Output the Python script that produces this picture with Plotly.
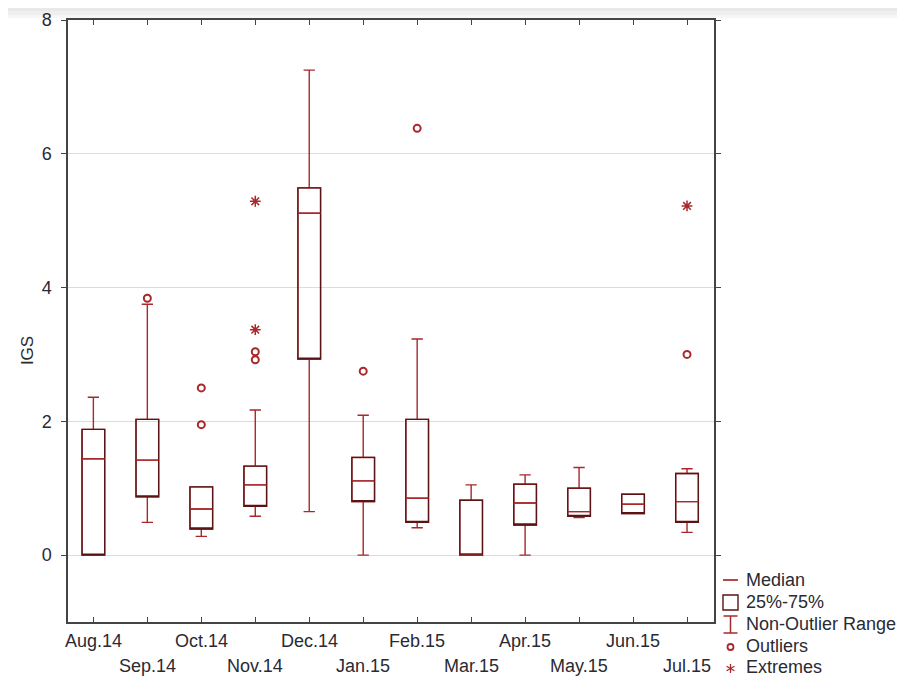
import plotly.graph_objects as go

months = ["Aug.14", "Sep.14", "Oct.14", "Nov.14", "Dec.14", "Jan.15",
          "Feb.15", "Mar.15", "Apr.15", "May.15", "Jun.15", "Jul.15"]
q1 = [0.00, 0.87, 0.39, 0.73, 2.93, 0.80, 0.49, 0.00, 0.45, 0.58, 0.62, 0.49]
median = [1.44, 1.42, 0.69, 1.05, 5.11, 1.11, 0.85, 0.00, 0.78, 0.65, 0.76, 0.80]
q3 = [1.88, 2.03, 1.02, 1.33, 5.49, 1.46, 2.03, 0.82, 1.06, 1.00, 0.91, 1.22]
low_whisker = [0.00, 0.49, 0.28, 0.58, 0.65, 0.00, 0.41, 0.00, 0.00, 0.56, 0.62, 0.34]
high_whisker = [2.36, 3.75, 1.02, 2.17, 7.25, 2.09, 3.23, 1.05, 1.20, 1.31, 0.91, 1.29]

outlier_month = ["Sep.14", "Oct.14", "Oct.14", "Nov.14", "Nov.14", "Jan.15", "Feb.15", "Jul.15"]
outlier_value = [3.84, 1.95, 2.50, 2.92, 3.04, 2.75, 6.38, 3.00]
extreme_month = ["Nov.14", "Nov.14", "Jul.15"]
extreme_value = [3.37, 5.29, 5.22]

legend_labels = ["Median", "25%-75%", "Non-Outlier Range", "Outliers", "Extremes"]

RED = "#a8282b"
DARK = "#5a1416"
TXT = "#2a2a33"
FONT = "Liberation Sans"

xs = list(range(len(months)))
idx = {m: i for i, m in enumerate(months)}

fig = go.Figure()
BW = 0.42
# whiskers + caps (red)
fig.add_trace(go.Box(x=xs, q1=q1, median=median, q3=q3, lowerfence=low_whisker,
                     upperfence=high_whisker, width=BW, whiskerwidth=0.5,
                     line=dict(color=RED, width=1.4), fillcolor="rgba(0,0,0,0)",
                     boxpoints=False, showlegend=False, hoverinfo="skip"))
# box outline (dark)
fig.add_trace(go.Box(x=xs, q1=q1, median=q1, q3=q3, lowerfence=q1, upperfence=q3,
                     width=BW, whiskerwidth=0, line=dict(color=DARK, width=1.3),
                     fillcolor="rgba(0,0,0,0)", boxpoints=False, showlegend=False,
                     hoverinfo="skip"))
# medians (red)
fig.add_trace(go.Box(x=xs, q1=median, median=median, q3=median, lowerfence=median,
                     upperfence=median, width=BW, whiskerwidth=0,
                     line=dict(color=RED, width=1.4), fillcolor="rgba(0,0,0,0)",
                     boxpoints=False, showlegend=False, hoverinfo="skip"))
fig.add_trace(go.Scatter(x=[idx[m] for m in outlier_month], y=outlier_value, mode="markers",
                         marker=dict(symbol="circle-open", size=7, color=RED, line=dict(width=2)),
                         showlegend=False, hoverinfo="skip"))
fig.add_trace(go.Scatter(x=[idx[m] for m in extreme_month], y=extreme_value, mode="markers",
                         marker=dict(symbol="asterisk-open", size=9, color=RED, line=dict(width=1.5, color=RED)),
                         showlegend=False, hoverinfo="skip"))

FS = 18
# staggered month labels
for i, m in enumerate(months):
    fig.add_annotation(x=i, y=-1, xref="x", yref="y", text=m, showarrow=False,
                       yanchor="top", yshift=-7 if i % 2 == 0 else -32,
                       font=dict(family=FONT, size=FS, color=TXT))

fig.add_annotation(x=(27 - 68) / 646.0, y=0.45, xref="paper", yref="paper", text="IGS",
                   textangle=-90, xanchor="center", yanchor="middle",
                   showarrow=False, font=dict(family=FONT, size=17, color=TXT))

# legend (drawn manually); page-pixel helpers relative to plot area (68..714, 20..622)
W, H = 646.0, 602.0
def px(x):
    return (x - 68) / W
def py(y):
    return (622 - y) / H

leg_y = [580, 602, 624, 646, 667]
for lab, yy in zip(legend_labels, leg_y):
    fig.add_annotation(x=px(744), y=py(yy), xref="paper", yref="paper", text=lab,
                       showarrow=False, xanchor="left", yanchor="middle",
                       font=dict(family=FONT, size=FS, color=TXT))
shapes = []
def seg(x0, y0, x1, y1, color=RED, w=1.5):
    shapes.append(dict(type="line", xref="paper", yref="paper", x0=px(x0), x1=px(x1),
                       y0=py(y0), y1=py(y1), line=dict(color=color, width=w)))
seg(723, 580, 738, 580, w=1.7)
shapes.append(dict(type="rect", xref="paper", yref="paper", x0=px(723), x1=px(738),
                   y0=py(595), y1=py(610), line=dict(color=DARK, width=1.4)))
seg(730.5, 616, 730.5, 633)
seg(723.5, 616, 737.5, 616)
seg(723.5, 633, 737.5, 633)
shapes.append(dict(type="circle", xref="paper", yref="paper", x0=px(727.5), x1=px(733.5),
                   y0=py(644), y1=py(650), line=dict(color=RED, width=1.8)))
# asterisk glyph (6 arms)
cx, cy, r = 730.5, 668.5, 4.5
seg(cx, cy - r, cx, cy + r, w=1.3)
seg(cx - r * 0.87, cy - r * 0.5, cx + r * 0.87, cy + r * 0.5, w=1.3)
seg(cx - r * 0.87, cy + r * 0.5, cx + r * 0.87, cy - r * 0.5, w=1.3)
# top grey band
for (a, b, c) in [(8, 11, "#e9e9e9"), (11, 15, "#efefef"), (15, 18, "#f6f6f6")]:
    shapes.append(dict(type="rect", xref="paper", yref="paper", x0=px(8), x1=px(905),
                       y0=py(b), y1=py(a), line=dict(width=0), fillcolor=c, layer="below"))

# page has an 8px body margin: figure occupies (8,8)-(905,677)
fig.update_layout(
    width=897, height=669,
    margin=dict(l=60, r=191, t=12, b=55, autoexpand=False),
    paper_bgcolor="white", plot_bgcolor="white",
    boxmode="overlay",
    shapes=shapes,
    font=dict(family=FONT, color=TXT),
)
fig.update_xaxes(range=[-0.47, 11.5], tickvals=xs, ticktext=[""] * len(xs),
                 ticks="inside", ticklen=5, tickcolor="#444", showgrid=False,
                 showline=True, linecolor="#444", linewidth=1.5, mirror="ticks",
                 zeroline=False, automargin=False)
fig.update_yaxes(range=[-1, 8], tickvals=[0, 2, 4, 6, 8], ticks="outside", ticklen=5,
                 tickcolor="#444", showgrid=True, gridcolor="#dcdcdc", gridwidth=1.3,
                 showline=True, linecolor="#444", linewidth=1.5, mirror="ticks",
                 zeroline=False, ticklabelstandoff=6, automargin=False,
                 tickfont=dict(family=FONT, size=FS, color=TXT))

fig.write_html("out.html")
